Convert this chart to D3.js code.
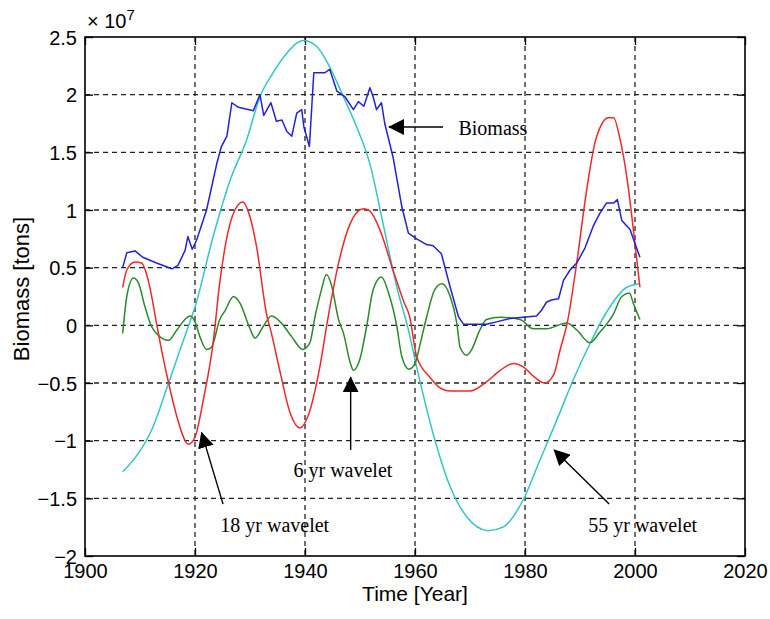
<!DOCTYPE html>
<html>
<head>
<meta charset="utf-8">
<script src="https://cdn.jsdelivr.net/npm/d3@7.9.0/dist/d3.min.js"></script>
<style>
  body { margin: 0; background: #fff; }
  svg { display: block; }
</style>
</head>
<body>
<svg id="chart" width="770" height="619"></svg>
<script>
// values in units of 1e7 tons
const biomass = [
  [1906.85, 0.50], [1907.6, 0.63], [1909.1, 0.645], [1910.5, 0.59], [1913, 0.54],
  [1915.8, 0.49], [1916.9, 0.52], [1918.2, 0.65], [1918.7, 0.77], [1919.5, 0.66],
  [1920.3, 0.74], [1922.1, 1.0], [1924, 1.41], [1924.8, 1.55], [1925.8, 1.64],
  [1926.7, 1.93], [1927.9, 1.89], [1930.6, 1.86], [1931.8, 2.0], [1932.5, 1.82],
  [1933.8, 1.93], [1934.8, 1.77], [1935.8, 1.78], [1936.7, 1.68], [1937.6, 1.64],
  [1938.5, 1.84], [1939.4, 1.87], [1939.8, 1.72], [1940.8, 1.55], [1941.6, 2.19],
  [1943.6, 2.19], [1944.5, 2.22], [1945.8, 2.03], [1947.3, 1.98], [1948.8, 1.87],
  [1949.7, 1.94], [1950.7, 1.90], [1951.8, 2.06], [1952.4, 1.98], [1953, 1.87],
  [1953.9, 1.93], [1954.5, 1.75], [1956, 1.46], [1957.6, 1.03], [1958.8, 0.80],
  [1960.3, 0.75], [1962.1, 0.70], [1963.3, 0.69], [1964.8, 0.62], [1966.4, 0.33],
  [1967.9, 0.075], [1968.8, 0.01], [1973, 0.01], [1974.8, 0.03], [1977.3, 0.06],
  [1982.1, 0.08], [1983, 0.13], [1983.9, 0.20], [1984.8, 0.22], [1986.1, 0.23],
  [1987, 0.39], [1988.2, 0.48], [1989.4, 0.54], [1990.9, 0.67], [1992.4, 0.86],
  [1993.6, 0.97], [1994.8, 1.06], [1996.1, 1.06], [1996.8, 1.09], [1997.6, 0.91],
  [1999.1, 0.83], [2000, 0.71], [2000.9, 0.59]
];

const wavelet18 = [
  [1906.85, 0.33], [1907.6, 0.48], [1909.1, 0.55], [1910.3, 0.54], [1911.5, 0.39],
  [1913, 0.02], [1913.9, -0.21], [1915.2, -0.50], [1916.7, -0.79], [1918.8, -1.03],
  [1920, -0.97], [1921.5, -0.65], [1923.3, -0.15], [1924.5, 0.37], [1926.1, 0.83],
  [1927.6, 1.03], [1928.7, 1.07], [1930, 0.94], [1931.2, 0.68], [1933, 0.10],
  [1933.9, -0.07], [1935.5, -0.41], [1937.3, -0.76], [1939.1, -0.89], [1940.6, -0.78],
  [1942.7, -0.36], [1944.2, 0.07], [1946.4, 0.60], [1948.2, 0.88], [1950.6, 1.01],
  [1951.8, 0.99], [1953.6, 0.83], [1956, 0.48], [1958, 0.20], [1959, 0.08],
  [1960.3, -0.27], [1962.7, -0.45], [1964.8, -0.55], [1966.4, -0.57], [1970, -0.57],
  [1973, -0.49], [1975.5, -0.39], [1977.9, -0.33], [1979.7, -0.36], [1981.5, -0.44],
  [1983.6, -0.50], [1985.2, -0.43], [1986.4, -0.21], [1987.8, 0.05], [1989.4, 0.54],
  [1991.2, 1.17], [1992.7, 1.58], [1993.9, 1.74], [1995.1, 1.80], [1996.1, 1.80],
  [1997.3, 1.61], [1998.5, 1.29], [1999.7, 0.83], [2000.9, 0.33]
];

const wavelet6 = [
  [1906.85, -0.07], [1907.6, 0.25], [1908.8, 0.41], [1909.7, 0.37], [1910.9, 0.16],
  [1912.1, -0.01], [1913, -0.07], [1915.2, -0.13], [1916.7, -0.04], [1919.1, 0.08],
  [1920, 0.03], [1920.9, -0.10], [1922.1, -0.21], [1923, -0.19], [1924.5, 0.05],
  [1925.5, 0.13], [1927, 0.25], [1928.2, 0.19], [1930, -0.03], [1930.9, -0.11],
  [1932.4, -0.01], [1933.9, 0.08], [1935.5, 0.03], [1937.6, -0.10], [1939.6, -0.21],
  [1940.9, -0.15], [1941.8, 0.07], [1943, 0.31], [1943.9, 0.44], [1944.8, 0.35],
  [1946.1, 0.05], [1947, -0.07], [1948.2, -0.32], [1948.8, -0.39], [1950, -0.29],
  [1951.2, -0.01], [1952.4, 0.31], [1953.9, 0.42], [1955.2, 0.28], [1956.7, -0.01],
  [1957.6, -0.27], [1958.9, -0.38], [1960, -0.33], [1961, -0.15], [1962.1, 0.07],
  [1963.6, 0.31], [1964.9, 0.36], [1966.4, 0.25], [1967.6, 0.02], [1968.2, -0.19],
  [1969.4, -0.26], [1970.3, -0.21], [1971.8, -0.04], [1973, 0.05], [1975.5, 0.07],
  [1979.1, 0.05], [1981.5, -0.03], [1983.9, -0.03], [1987.6, 0.02], [1989.4, -0.04],
  [1991.8, -0.15], [1993.6, -0.06], [1996.1, 0.10], [1997.6, 0.25], [1999, 0.28],
  [1999.7, 0.19], [2000.9, 0.05]
];

const wavelet55 = [
  [1906.85, -1.27], [1909.7, -1.11], [1912.1, -0.91], [1915.2, -0.50], [1917.3, -0.21],
  [1919.4, 0.075], [1920, 0.16], [1923.3, 0.77], [1926.4, 1.26], [1929.4, 1.61],
  [1931.8, 1.98], [1934.2, 2.19], [1936.7, 2.36], [1939.7, 2.47], [1942.1, 2.42],
  [1944.5, 2.24], [1947, 1.98], [1949.4, 1.72], [1951.8, 1.40], [1954.2, 0.88],
  [1956.7, 0.33], [1958.8, -0.04], [1960.3, -0.36], [1963.3, -0.94], [1966.4, -1.40],
  [1969.4, -1.66], [1973.3, -1.78], [1976, -1.75], [1979.7, -1.51], [1982.7, -1.17],
  [1985.8, -0.82], [1988.8, -0.47], [1991.8, -0.16], [1994.9, 0.12], [1998.5, 0.33],
  [2000.8, 0.36]
];

const xTicks = [1900, 1920, 1940, 1960, 1980, 2000, 2020];
const yTicks = [-2, -1.5, -1, -0.5, 0, 0.5, 1, 1.5, 2, 2.5];

// annotations: label, arrow tip, arrow tail, label position (data units)
const notes = [
  { label: "Biomass",       tip: [1955.3, 1.72],  tail: [1965.1, 1.72],  at: [1967.9, 1.71], anchor: "start" },
  { label: "18 yr wavelet", tip: [1921.2, -0.93], tail: [1925.1, -1.55], at: [1934.5, -1.73], anchor: "middle" },
  { label: "6 yr wavelet",  tip: [1948.3, -0.45], tail: [1948.3, -1.08], at: [1946.9, -1.25], anchor: "middle" },
  { label: "55 yr wavelet", tip: [1985.3, -1.08], tail: [1995.3, -1.55], at: [2001.4, -1.73], anchor: "middle" }
];

const margin = { top: 37, right: 25, bottom: 63, left: 85 };
const width = 770 - margin.left - margin.right;
const height = 619 - margin.top - margin.bottom;

const svg = d3.select("#chart");
const g = svg.append("g").attr("transform", `translate(${margin.left},${margin.top})`);

const x = d3.scaleLinear().domain([1900, 2020]).range([0, width]);
const y = d3.scaleLinear().domain([-2, 2.5]).range([height, 0]);

// grid
g.append("g").selectAll("line")
  .data(yTicks.filter(d => d > -2 && d < 2.5))
  .join("line")
  .attr("x1", 0).attr("x2", width)
  .attr("y1", d => y(d)).attr("y2", d => y(d))
  .attr("stroke", "#222").attr("stroke-width", 1.3)
  .attr("stroke-dasharray", "5,4");

g.append("g").selectAll("line")
  .data(xTicks.filter(d => d > 1900 && d < 2020))
  .join("line")
  .attr("x1", d => x(d)).attr("x2", d => x(d))
  .attr("y1", 0).attr("y2", height)
  .attr("stroke", "#222").attr("stroke-width", 1.3)
  .attr("stroke-dasharray", "5,4");

// axes with inward ticks
const fontSans = "Liberation Sans, Arial, Helvetica, sans-serif";
const fontSerif = "Liberation Serif, Times New Roman, serif";

const xAxis = g.append("g").attr("transform", `translate(0,${height})`)
  .call(d3.axisBottom(x).tickValues(xTicks).tickFormat(d3.format("d")).tickSizeInner(-8).tickSizeOuter(0).tickPadding(8));
const xAxisTop = g.append("g")
  .call(d3.axisTop(x).tickValues(xTicks).tickFormat("").tickSizeInner(-8).tickSizeOuter(0));
const yAxis = g.append("g")
  .call(d3.axisLeft(y).tickValues(yTicks).tickFormat(d => d3.format("")(d)).tickSizeInner(-8).tickSizeOuter(0).tickPadding(8));
const yAxisRight = g.append("g").attr("transform", `translate(${width},0)`)
  .call(d3.axisRight(y).tickValues(yTicks).tickFormat("").tickSizeInner(-8).tickSizeOuter(0));

[xAxis, xAxisTop, yAxis, yAxisRight].forEach(a => {
  a.select(".domain").remove();
  a.selectAll(".tick line").attr("stroke", "#000").attr("stroke-width", 1.3);
  a.selectAll("text").attr("fill", "#000").style("font-family", fontSans).style("font-size", "20px");
});
yAxis.selectAll("text").attr("dy", "0.36em");

// frame
g.append("rect")
  .attr("x", 0).attr("y", 0).attr("width", width).attr("height", height)
  .attr("fill", "none").attr("stroke", "#000").attr("stroke-width", 1.6);

// series
const line = d3.line().x(d => x(d[0])).y(d => y(d[1]));
const smooth = d3.line().x(d => x(d[0])).y(d => y(d[1])).curve(d3.curveMonotoneX);

const series = [
  { data: wavelet55, color: "#33c6c6", gen: smooth },
  { data: wavelet6, color: "#2a8a2a", gen: smooth },
  { data: wavelet18, color: "#ec2a2a", gen: smooth },
  { data: biomass, color: "#2222d4", gen: line }
];

g.append("g").selectAll("path")
  .data(series)
  .join("path")
  .attr("d", d => d.gen(d.data))
  .attr("fill", "none")
  .attr("stroke", d => d.color)
  .attr("stroke-width", 1.5)
  .attr("stroke-linejoin", "round");

// annotations
svg.append("defs").append("marker")
  .attr("id", "arrow")
  .attr("viewBox", "0 0 16 16")
  .attr("refX", 15).attr("refY", 8)
  .attr("markerWidth", 16).attr("markerHeight", 16)
  .attr("markerUnits", "userSpaceOnUse")
  .attr("orient", "auto")
  .append("path")
  .attr("d", "M0,0 L16,8 L0,16 Z")
  .attr("fill", "#000");

const ann = g.append("g");
ann.selectAll("line")
  .data(notes)
  .join("line")
  .attr("x1", d => x(d.tail[0])).attr("y1", d => y(d.tail[1]))
  .attr("x2", d => x(d.tip[0])).attr("y2", d => y(d.tip[1]))
  .attr("stroke", "#000").attr("stroke-width", 1.4)
  .attr("marker-end", "url(#arrow)");

ann.selectAll("text")
  .data(notes)
  .join("text")
  .attr("x", d => x(d.at[0])).attr("y", d => y(d.at[1]))
  .attr("dy", "0.35em")
  .attr("text-anchor", d => d.anchor)
  .style("font-family", fontSerif)
  .style("font-size", "20px")
  .attr("fill", "#000")
  .text(d => d.label);

// axis titles
svg.append("text")
  .attr("x", margin.left + width / 2).attr("y", 601)
  .attr("text-anchor", "middle")
  .style("font-family", fontSans).style("font-size", "21px")
  .text("Time [Year]");

svg.append("text")
  .attr("transform", "translate(29,289) rotate(-90)")
  .attr("text-anchor", "middle")
  .style("font-family", fontSans).style("font-size", "22px")
  .text("Biomass [tons]");

// exponent label
const expo = svg.append("text")
  .attr("x", 87).attr("y", 28)
  .style("font-family", fontSans).style("font-size", "20px");
expo.append("tspan").text("\u00d7 10");
expo.append("tspan").attr("dy", -8).style("font-size", "15px").text("7");
</script>
</body>
</html>
